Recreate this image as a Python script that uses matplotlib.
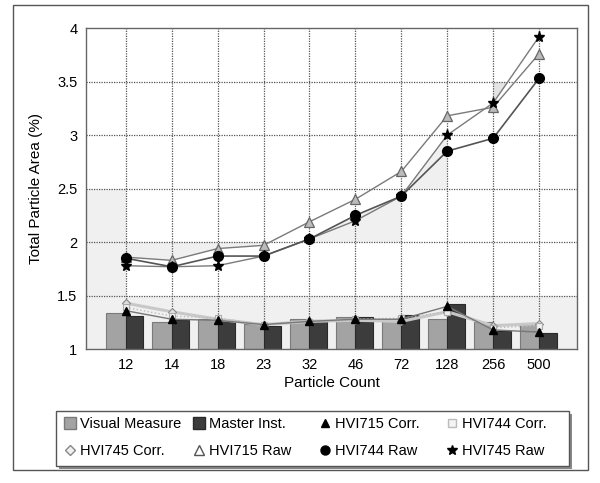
import matplotlib
matplotlib.use("Agg")
import matplotlib.pyplot as plt
import numpy as np
from matplotlib.patches import Rectangle, Polygon
from matplotlib.lines import Line2D

plt.rcParams['font.family'] = ['Liberation Sans', 'DejaVu Sans']

categories = ["12", "14", "18", "23", "32", "46", "72", "128", "256", "500"]
visual_measure = [1.34, 1.25, 1.28, 1.24, 1.28, 1.30, 1.28, 1.28, 1.25, 1.24]
master_inst = [1.31, 1.27, 1.27, 1.22, 1.27, 1.30, 1.32, 1.42, 1.17, 1.15]
hvi715_corr = [1.36, 1.28, 1.27, 1.23, 1.26, 1.28, 1.28, 1.40, 1.18, 1.16]
hvi744_corr = [1.39, 1.31, 1.29, 1.23, 1.25, 1.28, 1.29, 1.35, 1.20, 1.22]
hvi745_corr = [1.43, 1.35, 1.28, 1.23, 1.26, 1.27, 1.26, 1.35, 1.22, 1.24]
hvi715_raw = [1.86, 1.83, 1.94, 1.97, 2.19, 2.40, 2.66, 3.18, 3.26, 3.76]
hvi744_raw = [1.85, 1.77, 1.87, 1.87, 2.03, 2.25, 2.43, 2.85, 2.97, 3.53]
hvi745_raw = [1.78, 1.77, 1.78, 1.87, 2.03, 2.20, 2.43, 3.00, 3.30, 3.92]

yticks = [1, 1.5, 2, 2.5, 3, 3.5, 4]
ytick_labels = ["1", "1.5", "2", "2.5", "3", "3.5", "4"]

W, H = 600, 483
fig = plt.figure(figsize=(W / 100, H / 100), dpi=100)
ax = fig.add_axes([0.143, 0.277, 0.819, 0.665])
x = np.arange(len(categories))
xmin, xmax = -0.87, 9.83
ax.set_xlim(xmin, xmax)
ax.set_ylim(1, 4)

# faint background shading (scan artefacts of the original)
shade = '#f0f0f0'
ax.add_patch(Rectangle((xmin, 1.0), xmax - xmin, 0.5, color=shade, zorder=0, lw=0))
ax.add_patch(Rectangle((xmin, 1.5), 0 - xmin, 1.0, color=shade, zorder=0, lw=0))
ax.add_patch(Polygon([(0, 2.0), (0, hvi715_raw[0]), (1, hvi715_raw[1]), (2, hvi715_raw[2]),
                      (3, hvi715_raw[3]), (3, 2.0)], closed=True, color=shade, zorder=0, lw=0))
ax.add_patch(Polygon([(4, 2.0), (4, hvi744_raw[4]), (5, hvi744_raw[5]), (6, hvi744_raw[6]),
                      (7, hvi745_raw[7]), (7, 2.5), (6, 2.5), (6, 2.0)], closed=True,
                     color=shade, zorder=0, lw=0))
ax.add_patch(Polygon([(8, hvi745_raw[8]), (8, 3.5), (8.32, 3.5)], closed=True,
                     color='#e4e4e4', zorder=0, lw=0))

# grid
for yv in yticks[1:-1]:
    ax.axhline(yv, color='#555555', lw=0.9, ls=(0, (1.0, 1.0)), zorder=1)
for xv in x:
    ax.axvline(xv, color='#555555', lw=0.9, ls=(0, (1.0, 1.0)), zorder=1)

# bars
ax.bar(x - 0.21, np.array(visual_measure) - 1, bottom=1, width=0.42, color='#a3a3a3',
       edgecolor='#7a7a7a', lw=0.8, zorder=2, label='Visual Measure')
ax.bar(x + 0.19, np.array(master_inst) - 1, bottom=1, width=0.38, color='#3c3c3c',
       edgecolor='#2a2a2a', lw=0.8, zorder=2, label='Master Inst.')

# corrected lines
ax.plot(x, hvi745_corr, color='#c8c8c8', lw=2.2, marker='D', ms=4.5, mfc='#e0e0e0',
        mec='#888888', mew=0.8, zorder=3, label='HVI745 Corr.')
ax.plot(x, hvi744_corr, color='#bdbdbd', lw=1.0, ls=':', marker='s', ms=4.5, mfc='#eeeeee',
        mec='#aaaaaa', mew=0.8, zorder=3, label='HVI744 Corr.')
ax.plot(x, hvi715_corr, color='#777777', lw=1.0, marker='^', ms=6, mfc='black',
        mec='black', zorder=4, label='HVI715 Corr.')

# raw lines
ax.plot(x, hvi715_raw, color='#7a7a7a', lw=1.0, marker='^', ms=7, mfc='#bbbbbb',
        mec='#666666', mew=0.9, zorder=4, label='HVI715 Raw')
ax.plot(x, hvi745_raw, color='#7a7a7a', lw=1.0, marker='*', ms=8, mfc='black',
        mec='black', zorder=5, label='HVI745 Raw')
ax.plot(x, hvi744_raw, color='#555555', lw=1.2, marker='o', ms=7, mfc='black',
        mec='black', zorder=5, label='HVI744 Raw')

ax.set_xticks(x)
ax.set_xticklabels(categories, fontsize=10.5)
ax.set_yticks(yticks)
ax.set_yticklabels(ytick_labels, fontsize=10.5)
ax.tick_params(length=0, pad=6)
ax.set_xlabel('Particle Count', fontsize=11, labelpad=3)
ax.set_ylabel('Total Particle Area (%)', fontsize=11, labelpad=10)
for s in ax.spines.values():
    s.set_color('#666666')
    s.set_linewidth(1.0)

# legend: frame with shadow, four equal columns, marker-only handles
def px(xp, yp):
    return xp / W, 1 - yp / H

lx0, ly0, lx1, ly1 = 56, 411, 569, 466
fig.patches.append(Rectangle(px(lx0 + 3, ly1 + 3), (lx1 - lx0) / W, (ly1 - ly0) / H,
                             transform=fig.transFigure, facecolor='#888888',
                             edgecolor='none', zorder=0))
fig.patches.append(Rectangle(px(lx0, ly1), (lx1 - lx0) / W, (ly1 - ly0) / H,
                             transform=fig.transFigure, facecolor='white',
                             edgecolor='#555555', lw=1.0, zorder=1))

handles = {
    'Visual Measure': Line2D([], [], ls='none', marker='s', ms=8, mfc='#a3a3a3', mec='#7a7a7a'),
    'Master Inst.': Line2D([], [], ls='none', marker='s', ms=8, mfc='#3c3c3c', mec='#2a2a2a'),
    'HVI715 Corr.': Line2D([], [], ls='none', marker='^', ms=6, mfc='black', mec='black'),
    'HVI744 Corr.': Line2D([], [], ls='none', marker='s', ms=6, mfc='#f4f4f4', mec='#bbbbbb'),
    'HVI745 Corr.': Line2D([], [], ls='none', marker='D', ms=5, mfc='#f0f0f0', mec='#888888'),
    'HVI715 Raw': Line2D([], [], ls='none', marker='^', ms=6.5, mfc='white', mec='#555555'),
    'HVI744 Raw': Line2D([], [], ls='none', marker='o', ms=6.5, mfc='black', mec='black'),
    'HVI745 Raw': Line2D([], [], ls='none', marker='*', ms=7.5, mfc='black', mec='black'),
}
columns = [['Visual Measure', 'HVI745 Corr.'], ['Master Inst.', 'HVI715 Raw'],
           ['HVI715 Corr.', 'HVI744 Raw'], ['HVI744 Corr.', 'HVI745 Raw']]
col_text_x = [80, 209, 335, 462]
for col, tx in zip(columns, col_text_x):
    lg = fig.legend([handles[c] for c in col], col, loc='center left',
                    bbox_to_anchor=px(tx - 16, 437.5), fontsize=10.5, frameon=False,
                    handlelength=0.8, handletextpad=0.3, labelspacing=0.85,
                    borderpad=0, borderaxespad=0)
    lg.set_zorder(3)

# outer frame
fig.patches.append(Rectangle((0.022, 0.027), 0.958, 0.962, transform=fig.transFigure,
                             fill=False, edgecolor='#555555', lw=1.0))

fig.savefig('out.png', dpi=100)
